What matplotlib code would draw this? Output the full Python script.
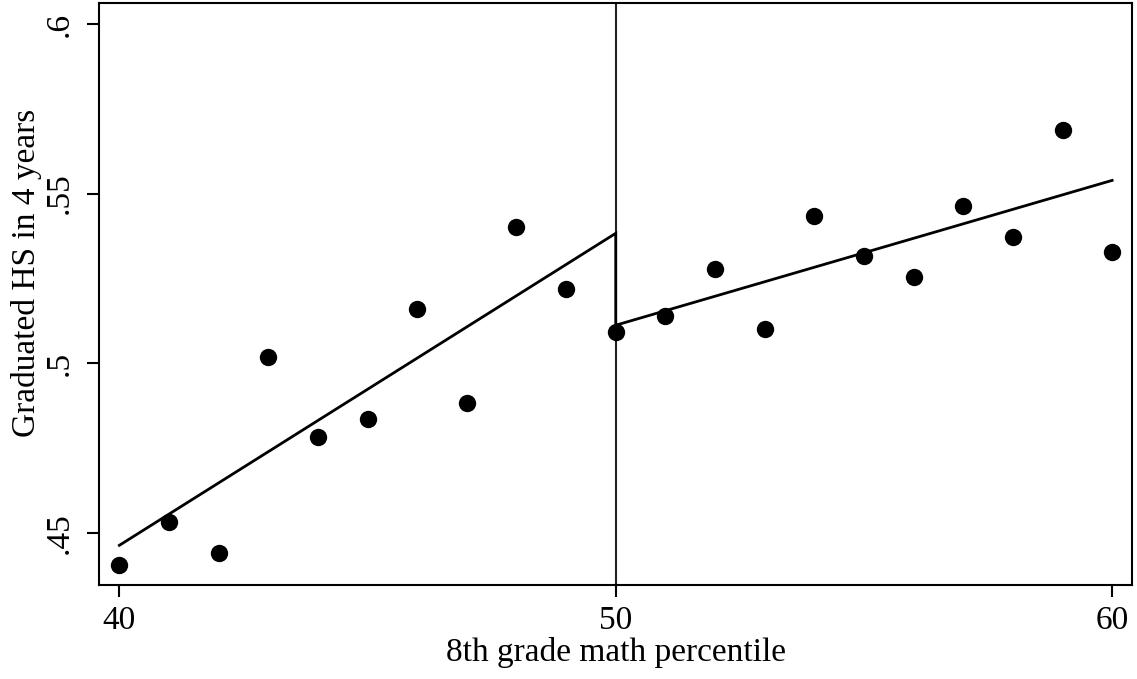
import matplotlib
matplotlib.use("Agg")
import matplotlib.pyplot as plt

# Data
percentile = [40, 41, 42, 43, 44, 45, 46, 47, 48, 49, 50,
              51, 52, 53, 54, 55, 56, 57, 58, 59, 60]
grad_rate = [0.4406, 0.4531, 0.4441, 0.5017, 0.4783, 0.4835, 0.5161, 0.4882,
             0.5401, 0.5220, 0.5092, 0.5140, 0.5279, 0.5102, 0.5434, 0.5317,
             0.5255, 0.5463, 0.5372, 0.5687, 0.5327]
fit_x = [40, 50, 50, 60]
fit_y = [0.4463, 0.5383, 0.5112, 0.5539]
cutoff = 50
x_ticks = [40, 50, 60]
y_ticks = [0.45, 0.5, 0.55, 0.6]
y_ticklabels = [".45", ".5", ".55", ".6"]

plt.rcParams['font.family'] = ['Liberation Serif', 'DejaVu Serif']

W, H = 1137, 679
fig = plt.figure(figsize=(W / 100, H / 100), dpi=100)
ax = fig.add_axes([99 / W, 1 - 585 / H, (1132 - 99) / W, (585 - 3) / H])

ax.axvline(cutoff, color='#222222', lw=1.5, zorder=1)
ax.plot(fit_x, fit_y, color='black', lw=2.0, zorder=2, solid_joinstyle='miter')
ax.plot(percentile, grad_rate, 'o', color='black', ms=12.5, mew=0, zorder=3)

ax.set_xlim(39.59, 60.40)
ax.set_ylim(0.4346, 0.6062)
ax.set_xticks(x_ticks)
ax.set_xticklabels([str(v) for v in x_ticks])
ax.set_yticks(y_ticks)
ax.set_yticklabels(y_ticklabels, rotation=90, va='center')

for s in ax.spines.values():
    s.set_linewidth(1.5)
ax.tick_params(axis='both', length=8.5, width=1.5, labelsize=24)
ax.tick_params(axis='x', pad=6)
ax.tick_params(axis='y', pad=9)

ax.set_xlabel("8th grade math percentile", fontsize=24, labelpad=1)
ax.set_ylabel("Graduated HS in 4 years", fontsize=24)
ax.yaxis.set_label_coords(-0.055, 0.537)

fig.savefig("out.png", dpi=100, facecolor='white')
